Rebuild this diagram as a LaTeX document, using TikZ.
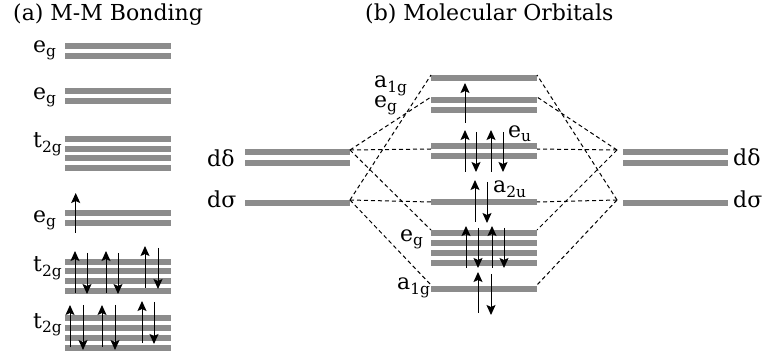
\documentclass[tikz,border=0pt]{standalone}
\usepackage{fontspec}
\setmainfont{DejaVu Serif}
\usetikzlibrary{arrows.meta}
\definecolor{levelgray}{RGB}{140,140,140}

\begin{document}
\begin{tikzpicture}[
  x=1pt, y=-1pt,
  level/.style={draw=levelgray, line width=6pt},
  spin/.style={-{Stealth[length=10pt,width=9pt,inset=2pt]}, line width=1pt},
  corr/.style={dash pattern=on 4pt off 3pt, line width=1pt},
  lbl/.style={anchor=base west, inner sep=0pt, font=\fontsize{22}{26}\selectfont},
]
  \useasboundingbox (0,0) rectangle (763,355);
  % titles
  \node[lbl] (titleA) at (13,21) {(a) M-M Bonding};
  \node[lbl] (titleB) at (365,21) {(b) Molecular Orbitals};

  % (a) levels of the M-M pair
  \foreach \y in {46,56,91,101,139,149,158.5,168.5,213.5,223.5,262,271.5,281.5,291,318,328,337.5,347.5}
    \draw[level] (65,\y) -- (171,\y);
  \node[lbl] (egA1) at (33,53) {e\textsubscript{g}};
  \node[lbl] (egA2) at (33,100) {e\textsubscript{g}};
  \node[lbl] (tgA1) at (33,148) {t\textsubscript{2g}};
  \node[lbl] (egA3) at (33,223) {e\textsubscript{g}};
  \node[lbl] (tgA2) at (33,272) {t\textsubscript{2g}};
  \node[lbl] (tgA3) at (33,328) {t\textsubscript{2g}};
  \draw[spin] (75.7,233) -- (75.7,193);
  \foreach \x/\ya/\yb in {75/293/251, 106/293/251, 145/288/246, 70/347/305, 102/347/305, 142/343/301,
                          87/253/294, 118/253/294, 158/248/289, 83/305/350, 115/305/350, 154/302/344}
    \draw[spin] (\x,\ya) -- (\x,\yb);

  % (b) d levels on both sides
  \foreach \xa/\xb in {245/350, 623/728} {
    \draw[level] (\xa,152.5) -- (\xb,152.5);
    \draw[level] (\xa,163) -- (\xb,163);
    \draw[level] (\xa,203) -- (\xb,203);
  }
  \node[lbl] (ddLlbl) at (207,167) {dδ};
  \node[lbl] (dsLlbl) at (207,208) {dσ};
  \node[lbl] (ddRlbl) at (733,166) {dδ};
  \node[lbl] (dsRlbl) at (733,208) {dσ};
  \coordinate (ddL) at (350,150);
  \coordinate (dsL) at (350,200);
  \coordinate (ddR) at (617,150);
  \coordinate (dsR) at (617,200);

  % (b) molecular orbitals
  \foreach \y in {78,100,110,146,156,202.5,233,243,253,263,289}
    \draw[level] (431,\y) -- (537,\y);
  \coordinate (a1tL) at (431,75);   \coordinate (a1tR) at (537,75);
  \coordinate (egtL) at (431,97);   \coordinate (egtR) at (537,97);
  \coordinate (euL) at (431,149);   \coordinate (euR) at (537,149);
  \coordinate (a2uL) at (431,202);  \coordinate (a2uR) at (537,202);
  \coordinate (egbL) at (431,230);  \coordinate (egbR) at (537,230);
  \coordinate (a1bL) at (431,285);  \coordinate (a1bR) at (537,285);
  \node[lbl] (a1tlbl) at (374,88) {a\textsubscript{1g}};
  \node[lbl] (egtlbl) at (374,108) {e\textsubscript{g}};
  \node[lbl] (eulbl) at (508,138) {e\textsubscript{u}};
  \node[lbl] (a2ulbl) at (493,193) {a\textsubscript{2u}};
  \node[lbl] (egblbl) at (400,242) {e\textsubscript{g}};
  \node[lbl] (a1blbl) at (397,290) {a\textsubscript{1g}};

  % correlation lines
  \foreach \s in {L,R} {
    \draw[corr] (ds\s) -- (a1t\s);
    \draw[corr] (dd\s) -- (egt\s);
    \draw[corr] (dd\s) -- (eu\s);
    \draw[corr] (ds\s) -- (a2u\s);
    \draw[corr] (dd\s) -- (egb\s);
    \draw[corr] (ds\s) -- (a1b\s);
  }

  % electrons
  \foreach \x/\ya/\yb in {465/123/83, 465/172/130, 491/172/130, 475/222/180, 466/268/226, 492/268/226, 478/313/272,
                          476/132/172, 503/132/172, 487/182/223, 478/228/268, 504/228/268, 491/274/315}
    \draw[spin] (\x,\ya) -- (\x,\yb);
\end{tikzpicture}
\end{document}
